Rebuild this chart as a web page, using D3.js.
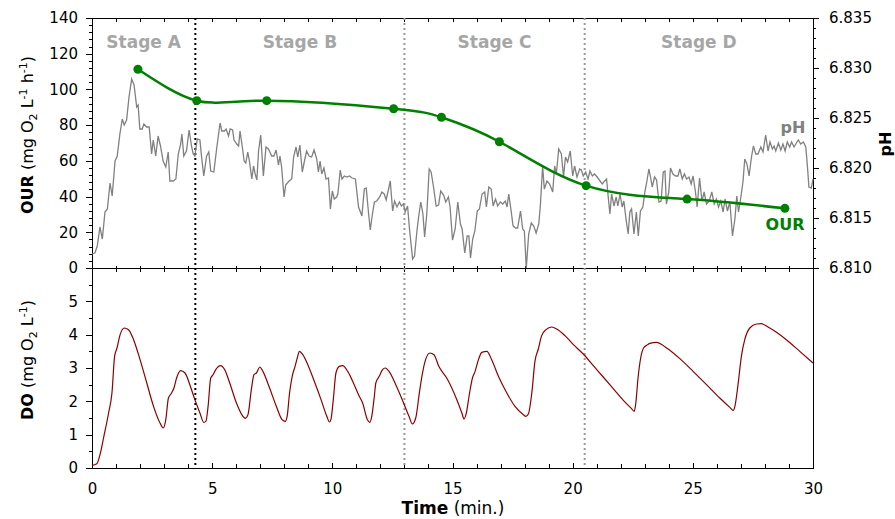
<!DOCTYPE html>
<html><head><meta charset="utf-8">
<script src="https://cdn.jsdelivr.net/npm/d3@7"></script>
<style>body{margin:0;background:#fff} svg{display:block} text{font-family:"DejaVu Sans",sans-serif}</style>
</head><body><svg id="c" width="895" height="519"></svg>
<script>
const timeTicks=[0,5,10,15,20,25,30];
const ourTicks=[0,20,40,60,80,100,120,140];
const phTicks=[6.810,6.815,6.820,6.825,6.830,6.835];
const doTicks=[0,1,2,3,4,5];
const stageNames=["Stage A","Stage B","Stage C","Stage D"];
const stageBounds=[0,4.3,13.0,20.5,30];

const ourTime=[1.91,4.36,7.27,12.55,14.54,16.95,20.56,24.76,28.83];
const ourValue=[111.3,93.7,93.7,89.2,84.4,70.7,46.1,38.6,33.4];

const phTime=[0.00,0.12,0.22,0.33,0.43,0.54,0.64,0.75,0.84,0.96,1.05,1.16,1.26,1.34,1.44,1.54,1.65,1.75,1.86,1.92,1.99,2.09,2.16,2.27,2.38,2.48,2.55,2.65,2.75,2.85,2.96,3.07,3.17,3.24,3.38,3.49,3.59,3.69,3.74,3.82,3.93,4.04,4.14,4.21,4.28,4.38,4.49,4.56,4.65,4.77,4.86,4.94,5.07,
5.19,5.33,5.40,5.51,5.58,5.68,5.75,5.85,5.91,6.02,6.10,6.16,6.26,6.33,6.40,6.48,6.55,6.65,6.72,6.79,6.86,6.93,7.02,7.13,7.24,7.34,7.48,7.57,7.66,7.76,7.82,7.89,7.99,8.06,8.20,8.31,8.39,8.49,8.56,8.65,8.75,8.84,8.93,9.03,9.14,9.24,9.35,9.42,9.49,9.56,9.65,9.74,9.84,9.92,10.00,10.08,10.18,
10.23,10.33,10.40,10.50,10.61,10.71,10.82,10.96,11.09,11.23,11.33,11.41,11.51,11.58,11.65,11.75,11.85,11.97,12.06,12.16,12.24,12.34,12.41,12.51,12.59,12.69,12.79,12.87,12.96,13.03,13.13,13.21,13.34,13.42,13.52,13.59,13.68,13.77,13.84,13.93,14.03,14.11,14.21,14.32,14.42,14.51,14.63,14.72,14.83,14.90,15.00,15.11,15.22,
15.33,15.40,15.51,15.61,15.68,15.75,15.84,15.93,16.03,16.12,16.23,16.34,16.41,16.51,16.61,16.69,16.79,16.88,16.99,17.09,17.20,17.27,17.34,17.44,17.52,17.62,17.71,17.83,17.92,17.99,18.07,18.17,18.28,18.38,18.48,18.59,18.66,18.75,18.82,18.93,19.04,19.17,19.25,19.32,19.42,19.53,19.62,19.70,19.79,19.90,20.00,20.08,20.18,20.29,
20.36,20.44,20.54,20.64,20.72,20.82,20.91,21.02,21.14,21.23,21.33,21.41,21.48,21.55,21.62,21.72,21.81,21.88,21.97,22.06,22.13,22.23,22.31,22.38,22.45,22.55,22.65,22.73,22.82,22.92,23.01,23.07,23.17,23.24,23.31,23.41,23.49,23.59,23.68,23.77,23.84,23.90,24.00,24.07,24.17,24.28,24.38,24.46,24.56,24.65,24.74,24.84,24.93,25.01,25.11,25.18,25.28,
25.38,25.47,25.57,25.68,25.79,25.89,25.98,26.07,26.16,26.26,26.34,26.44,26.54,26.65,26.75,26.83,26.90,27.00,27.09,27.16,27.25,27.34,27.44,27.52,27.62,27.71,27.83,27.92,28.03,28.13,28.21,28.31,28.38,28.45,28.56,28.66,28.75,28.84,28.93,29.03,29.11,29.21,29.31,29.39,29.49,29.60,29.70,29.77,29.83,29.93,30.00];

const phValue=[6.8114,6.8115,6.8122,6.8141,6.8129,6.8156,6.8159,6.8185,6.8172,6.8207,6.8212,6.8234,6.8249,6.8243,6.8248,6.8271,6.8289,6.8283,6.8261,6.8263,6.8239,6.8239,6.8244,6.8241,6.8241,6.8214,6.8228,6.8212,6.8232,6.8222,6.8207,6.8201,6.8216,6.8187,6.8187,6.8189,6.8214,6.8224,6.8234,6.8212,6.8217,6.8238,6.8222,6.8214,6.8212,6.8229,6.8228,6.8211,6.8192,6.8212,6.8216,6.8197,6.8196,
6.8220,6.8245,6.8237,6.8237,6.8239,6.8232,6.8239,6.8238,6.8228,6.8224,6.8222,6.8237,6.8220,6.8207,6.8205,6.8216,6.8207,6.8189,6.8202,6.8194,6.8188,6.8217,6.8233,6.8192,6.8221,6.8219,6.8212,6.8212,6.8218,6.8203,6.8212,6.8201,6.8171,6.8183,6.8187,6.8189,6.8211,6.8221,6.8211,6.8223,6.8196,6.8207,6.8217,6.8212,6.8211,6.8218,6.8209,6.8196,6.8207,6.8194,6.8200,6.8189,6.8190,6.8159,6.8177,6.8169,6.8171,
6.8174,6.8198,6.8189,6.8192,6.8191,6.8192,6.8190,6.8189,6.8161,6.8152,6.8179,6.8180,6.8154,6.8138,6.8151,6.8166,6.8167,6.8171,6.8176,6.8174,6.8168,6.8179,6.8187,6.8157,6.8167,6.8161,6.8166,6.8162,6.8164,6.8156,6.8162,6.8139,6.8109,6.8112,6.8137,6.8151,6.8166,6.8154,6.8131,6.8154,6.8199,6.8196,6.8181,6.8162,6.8163,6.8177,6.8173,6.8166,6.8171,6.8161,6.8128,6.8139,6.8166,
6.8144,6.8139,6.8115,6.8132,6.8132,6.8110,6.8129,6.8137,6.8157,6.8159,6.8174,6.8176,6.8161,6.8181,6.8179,6.8162,6.8169,6.8162,6.8166,6.8164,6.8167,6.8161,6.8174,6.8157,6.8142,6.8140,6.8140,6.8157,6.8139,6.8137,6.8100,6.8134,6.8145,6.8142,6.8135,6.8144,6.8164,6.8202,6.8179,6.8187,6.8184,6.8176,6.8202,6.8194,6.8219,6.8214,6.8191,6.8211,6.8206,6.8217,6.8192,6.8202,6.8191,6.8199,
6.8198,6.8192,6.8196,6.8189,6.8197,6.8192,6.8194,6.8191,6.8187,6.8184,6.8187,6.8189,6.8171,6.8154,6.8174,6.8162,6.8171,6.8162,6.8174,6.8161,6.8167,6.8147,6.8134,6.8156,6.8159,6.8134,6.8156,6.8132,6.8157,6.8161,6.8177,6.8184,6.8199,6.8191,6.8181,6.8191,6.8188,6.8166,6.8167,6.8196,6.8197,6.8164,6.8176,6.8200,6.8194,6.8192,6.8192,6.8199,6.8189,6.8194,6.8189,6.8191,6.8184,6.8192,6.8176,6.8161,6.8190,
6.8167,6.8176,6.8164,6.8167,6.8176,6.8164,6.8169,6.8161,6.8167,6.8156,6.8169,6.8157,6.8166,6.8132,6.8149,6.8172,6.8156,6.8171,6.8187,6.8209,6.8204,6.8192,6.8211,6.8222,6.8214,6.8214,6.8221,6.8216,6.8233,6.8217,6.8226,6.8219,6.8222,6.8217,6.8225,6.8218,6.8224,6.8217,6.8226,6.8221,6.8226,6.8221,6.8225,6.8228,6.8224,6.8226,6.8221,6.8201,6.8181,6.8180,6.8189];

const doTime=[0,0.2,0.35,0.48,0.69,0.83,0.94,1.04,1.17,1.34,1.52,1.73,2.0,2.28,2.56,2.83,2.97,3.07,3.18,3.31,3.41,3.52,3.69,3.87,4.07,4.28,4.49,4.65,4.74,4.83,4.94,5.04,5.15,5.35,5.52,5.73,6.01,6.28,6.38,6.49,6.63,6.74,6.84,6.98,7.11,7.39,7.67,7.91,8.04,8.12,8.22,8.33,8.45,8.54,8.63,8.77,8.98,9.25,9.53,9.77,9.88,9.94,10.04,10.15,10.29,10.43,10.64,10.91,11.12,11.26,11.46,11.56,11.64,11.74,11.81,11.95,12.09,12.20,12.36,12.64,12.91,13.19,13.33,13.47,13.63,13.74,13.88,14.06,14.23,14.43,14.76,15.18,15.39,15.48,15.57,15.71,15.83,15.94,16.08,16.22,16.43,16.63,16.91,17.26,17.60,17.95,18.05,18.16,18.30,18.43,18.57,18.71,18.89,19.13,19.34,19.68,20.03,20.44,20.86,21.27,21.69,22.11,22.45,22.56,22.62,22.72,22.83,22.95,23.08,23.21,23.49,23.91,24.46,25.01,25.57,26.12,26.54,26.68,26.75,26.88,27.02,27.16,27.37,27.65,27.85,28.13,28.48,28.89,29.45,30.0];
const doValue=[0.08,0.13,0.45,0.9,1.65,2.25,3.35,3.6,4.0,4.2,4.15,3.85,3.25,2.55,1.85,1.35,1.2,1.45,2.1,2.25,2.4,2.7,2.92,2.85,2.5,2.05,1.65,1.37,1.4,1.85,2.7,2.8,2.95,3.07,2.95,2.55,1.95,1.55,1.49,1.6,2.35,2.8,2.85,3.03,2.9,2.4,1.85,1.45,1.4,1.55,2.25,2.75,3.05,3.3,3.5,3.4,3.1,2.6,2.05,1.55,1.38,1.45,2.05,2.85,3.05,3.07,2.9,2.5,2.15,1.95,1.45,1.37,1.55,2.1,2.55,2.75,2.95,3.0,2.9,2.5,2.05,1.55,1.32,1.5,2.3,2.8,3.25,3.45,3.4,3.05,2.7,2.05,1.65,1.47,1.63,2.25,2.7,2.9,3.25,3.47,3.5,3.25,2.75,2.25,1.85,1.6,1.55,1.63,2.25,3.2,3.57,3.97,4.15,4.23,4.17,3.97,3.7,3.42,3.07,2.73,2.38,2.03,1.78,1.70,1.9,2.7,3.3,3.6,3.68,3.74,3.77,3.6,3.28,2.9,2.5,2.1,1.82,1.73,1.85,2.5,3.35,3.85,4.2,4.32,4.33,4.23,4.07,3.85,3.5,3.15];

const zip=(a,b)=>a.slice(0,Math.min(a.length,b.length)).map((v,i)=>[v,b[i]]);

const svg=d3.select("#c");
const L=92,R=813,T=18,M=268,B=468;
const x=d3.scaleLinear().domain([0,30]).range([L,R]);
const yOur=d3.scaleLinear().domain([0,140]).range([M,T]);
const yPh=d3.scaleLinear().domain([6.810,6.835]).range([M,T]);
const yDo=d3.scaleLinear().domain([0,6]).range([B,M]);

function styleAxis(g){
  g.select(".domain").remove();
  g.selectAll("text").attr("font-family","DejaVu Sans").attr("font-size",15).attr("fill","#000");
  g.selectAll("line").attr("stroke","#000").attr("shape-rendering","crispEdges");
}
const minute=d3.range(0,31,1);
// left OUR
svg.append("g").attr("transform",`translate(${L},0)`).call(d3.axisLeft(yOur).tickValues(d3.range(0,141,4)).tickSize(3).tickFormat("")).call(styleAxis);
svg.append("g").attr("transform",`translate(${L},0)`).call(d3.axisLeft(yOur).tickValues(ourTicks).tickSize(6).tickPadding(8).tickFormat(d3.format("d"))).call(styleAxis);
// left DO
svg.append("g").attr("transform",`translate(${L},0)`).call(d3.axisLeft(yDo).tickValues(d3.range(0,6.01,0.5)).tickSize(3).tickFormat("")).call(styleAxis);
svg.append("g").attr("transform",`translate(${L},0)`).call(d3.axisLeft(yDo).tickValues(doTicks).tickSize(6).tickPadding(8).tickFormat(d3.format("d"))).call(styleAxis);
// right pH
svg.append("g").attr("transform",`translate(${R},0)`).call(d3.axisRight(yPh).tickValues(d3.range(0,26).map(i=>6.810+i*0.001)).tickSize(3).tickFormat("")).call(styleAxis);
svg.append("g").attr("transform",`translate(${R},0)`).call(d3.axisRight(yPh).tickValues(phTicks).tickSize(6).tickPadding(10).tickFormat(d3.format(".3f"))).call(styleAxis);
// bottom time
svg.append("g").attr("transform",`translate(0,${B})`).call(d3.axisBottom(x).tickValues(minute).tickSizeInner(-4).tickSizeOuter(0).tickFormat("")).call(styleAxis);
svg.append("g").attr("transform",`translate(0,${B})`).call(d3.axisBottom(x).tickValues(timeTicks).tickSizeInner(-5).tickSizeOuter(0).tickPadding(15).tickFormat(d3.format("d"))).call(styleAxis);
// top and middle ticks
svg.append("g").attr("transform",`translate(0,${T})`).call(d3.axisTop(x).tickValues(minute).tickSizeInner(-4).tickSizeOuter(0).tickFormat("")).call(styleAxis);
svg.append("g").attr("transform",`translate(0,${M})`).call(d3.axisTop(x).tickValues(minute).tickSizeInner(-4).tickSizeOuter(0).tickFormat("")).call(styleAxis);
svg.append("g").attr("transform",`translate(0,${M})`).call(d3.axisTop(x).tickValues(minute).tickSizeInner(2).tickSizeOuter(0).tickFormat("")).call(styleAxis);

// frame
const frame=svg.append("g").attr("fill","none").attr("stroke","#000").attr("stroke-width",1).attr("shape-rendering","crispEdges");
frame.append("rect").attr("x",L).attr("y",T).attr("width",R-L).attr("height",B-T);
frame.append("line").attr("x1",L).attr("x2",R).attr("y1",M).attr("y2",M);

// stage dividers
stageBounds.slice(1,4).forEach((b,i)=>{
  svg.append("line").attr("x1",x(b)).attr("x2",x(b)).attr("y1",T).attr("y2",B)
    .attr("stroke",i===0?"#000":"#999").attr("stroke-width",2).attr("stroke-dasharray","2,3");
});
stageNames.forEach((s,i)=>{
  svg.append("text").attr("x",x((stageBounds[i]+stageBounds[i+1])/2)).attr("y",48)
    .attr("text-anchor","middle").attr("font-weight","bold").attr("font-size",17).attr("fill","#a6a6a6").text(s);
});

// pH
svg.append("path").datum(zip(phTime,phValue)).attr("fill","none").attr("stroke","#808080").attr("stroke-width",1.3)
  .attr("d",d3.line().x(d=>x(d[0])).y(d=>yPh(d[1])));
// OUR
const ourData=zip(ourTime,ourValue);
svg.append("path").datum(ourData).attr("fill","none").attr("stroke","#008000").attr("stroke-width",2.5)
  .attr("d",d3.line().curve(d3.curveNatural).x(d=>x(d[0])).y(d=>yOur(d[1])));
svg.selectAll("circle.our").data(ourData).enter().append("circle").attr("class","our")
  .attr("cx",d=>x(d[0])).attr("cy",d=>yOur(d[1])).attr("r",4.5).attr("fill","#008000");
// DO
svg.append("path").datum(zip(doTime,doValue)).attr("fill","none").attr("stroke","#8b0000").attr("stroke-width",1.2)
  .attr("d",d3.line().curve(d3.curveMonotoneX).x(d=>x(d[0])).y(d=>yDo(d[1])));

// series labels
svg.append("text").attr("x",793).attr("y",133).attr("text-anchor","middle").attr("font-weight","bold").attr("font-size",16).attr("fill","#808080").text("pH");
svg.append("text").attr("x",785).attr("y",230).attr("text-anchor","middle").attr("font-weight","bold").attr("font-size",16).attr("fill","#008000").text("OUR");

// axis titles
function unitTitle(tx,ty,bold,parts){
  const t=svg.append("text").attr("transform",`translate(${tx},${ty}) rotate(-90)`).attr("text-anchor","middle").attr("font-size",16).attr("fill","#000");
  t.append("tspan").attr("font-weight","bold").text(bold);
  parts.forEach(p=>{
    const s=t.append("tspan").text(p[0]);
    if(p[1]==="sub"){s.attr("font-size",11).attr("dy",4);}
    else if(p[1]==="sup"){s.attr("font-size",11).attr("dy",-6);}
    if(p[2]) s.attr("dy",p[2]);
  });
  return t;
}
unitTitle(33,135,"OUR",[[" (mg O"],["2","sub"],[" L",null,-4],["-1","sup"],[" h",null,6],["-1","sup"],[")",null,6]]);
unitTitle(33,360,"DO",[[" (mg O"],["2","sub"],[" L",null,-4],["-1","sup"],[")",null,6]]);
svg.append("text").attr("transform","translate(891,144) rotate(-90)").attr("text-anchor","middle").attr("font-weight","bold").attr("font-size",16).text("pH");
const tt=svg.append("text").attr("x",453).attr("y",514).attr("text-anchor","middle").attr("font-size",17);
tt.append("tspan").attr("font-weight","bold").text("Time");
tt.append("tspan").text(" (min.)");
</script></body></html>
